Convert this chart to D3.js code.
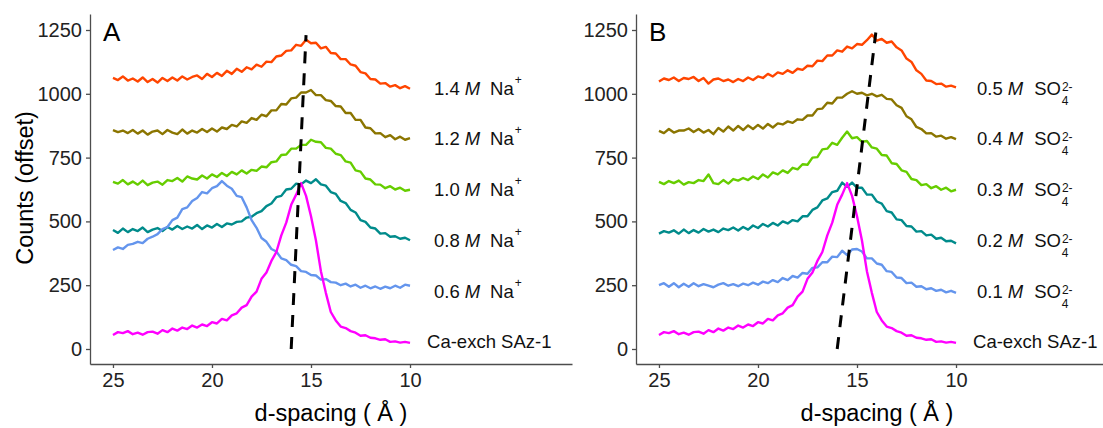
<!DOCTYPE html>
<html lang="en">
<head>
<meta charset="utf-8">
<title>d-spacing XRD patterns</title>
<script src="https://cdn.jsdelivr.net/npm/d3@7"></script>
<style>
  body { margin: 0; background: #fff; }
  svg { display: block; font-family: "Liberation Sans", Arial, sans-serif; }
</style>
</head>
<body>
<script>
// d-spacing grid (Å)
var dSpacing = [25, 24.75, 24.5, 24.25, 24, 23.75, 23.5, 23.25, 23, 22.75, 22.5, 22.25, 22,
  21.75, 21.5, 21.25, 21, 20.75, 20.5, 20.25, 20, 19.75, 19.5, 19.25, 19, 18.75, 18.5, 18.25, 18,
  17.75, 17.5, 17.25, 17, 16.75, 16.5, 16.25, 16, 15.75, 15.5, 15.25, 15, 14.75, 14.5, 14.25, 14,
  13.75, 13.5, 13.25, 13, 12.75, 12.5, 12.25, 12, 11.75, 11.5, 11.25, 11, 10.75, 10.5, 10.25, 10];

// counts with the offset already added
var caExch = [55, 66, 62, 70, 58, 64, 56, 66, 68, 60, 74, 66, 80, 72, 84, 78, 92, 84, 96, 90,
  105, 100, 118, 112, 132, 140, 162, 172, 205, 225, 275, 300, 345, 380, 445, 495, 565, 605, 650, 600,
  520, 425, 305, 220, 145, 112, 88, 82, 70, 64, 52, 54, 44, 42, 36, 38, 28, 30, 25, 28, 24];

var na06 = [388, 398, 392, 408, 412, 420, 415, 432, 440, 450, 470, 478, 505, 515, 548, 555, 580,
  592, 615, 610, 630, 638, 658, 640, 628, 600, 595, 555, 505, 475, 435, 420, 392, 382, 355, 348, 330,
  325, 305, 302, 290, 288, 272, 274, 262, 260, 250, 256, 245, 252, 240, 248, 238, 245, 236, 244, 238,
  248, 240, 252, 248];
var na08 = [466, 455, 472, 458, 470, 462, 476, 458, 468, 474, 462, 478, 468, 482, 470, 480, 472,
  486, 470, 484, 476, 490, 478, 492, 488, 498, 500, 515, 518, 532, 540, 560, 570, 595, 600, 625, 628,
  648, 645, 660, 650, 665, 645, 640, 615, 608, 580, 572, 545, 535, 505, 498, 476, 472, 452, 454, 440,
  442, 432, 436, 426];
var na10 = [655, 648, 662, 645, 656, 644, 660, 642, 652, 656, 644, 662, 658, 670, 656, 676, 668,
  664, 680, 668, 684, 674, 690, 678, 694, 684, 700, 688, 702, 698, 715, 712, 732, 735, 760, 762, 785,
  785, 800, 800, 820, 812, 810, 788, 785, 765, 760, 735, 730, 700, 695, 668, 664, 645, 644, 630, 638,
  625, 632, 620, 624];
var na12 = [858, 850, 856, 846, 858, 844, 856, 840, 852, 856, 842, 858, 848, 842, 860, 844, 856,
  848, 862, 850, 864, 852, 868, 862, 878, 872, 892, 886, 905, 898, 918, 912, 935, 935, 960, 958, 982,
  985, 1005, 1005, 1015, 995, 995, 975, 972, 952, 950, 925, 925, 898, 898, 868, 865, 845, 846, 830, 838,
  822, 832, 820, 826];
var na14 = [1062, 1054, 1068, 1052, 1060, 1048, 1064, 1046, 1058, 1044, 1062, 1050, 1064, 1052, 1068,
  1056, 1066, 1072, 1058, 1078, 1066, 1082, 1070, 1090, 1078, 1098, 1086, 1104, 1096, 1114, 1106, 1126,
  1124, 1146, 1150, 1168, 1170, 1192, 1188, 1212, 1198, 1200, 1178, 1184, 1160, 1158, 1136, 1136, 1115,
  1110, 1085, 1080, 1058, 1056, 1040, 1042, 1028, 1034, 1022, 1030, 1020];

var so01 = [250, 258, 244, 258, 242, 256, 244, 258, 246, 254, 248, 242, 252, 258, 248, 254, 246,
  256, 250, 260, 252, 264, 258, 270, 262, 278, 270, 286, 280, 298, 295, 318, 320, 340, 340, 362, 360,
  385, 368, 390, 392, 382, 355, 355, 335, 330, 305, 302, 280, 278, 258, 260, 244, 246, 234, 238, 228,
  232, 222, 228, 220];
var so02 = [452, 462, 456, 465, 452, 468, 454, 466, 456, 470, 460, 468, 458, 472, 466, 476, 464,
  478, 468, 484, 474, 490, 480, 494, 484, 500, 492, 505, 500, 520, 520, 545, 555, 582, 590, 615, 620,
  652, 635, 652, 632, 632, 605, 605, 578, 570, 540, 535, 508, 505, 482, 480, 460, 462, 445, 448, 432,
  436, 422, 424, 414];
var so03 = [655, 646, 658, 650, 660, 644, 654, 650, 662, 658, 684, 650, 646, 662, 648, 666, 660,
  670, 662, 676, 666, 684, 672, 692, 684, 700, 690, 710, 704, 724, 722, 750, 752, 782, 785, 808, 800,
  828, 852, 826, 830, 812, 815, 790, 785, 760, 758, 728, 725, 700, 694, 666, 662, 642, 646, 630, 638,
  624, 632, 618, 624];
var so04 = [855, 846, 862, 848, 856, 856, 864, 850, 862, 848, 858, 842, 866, 852, 872, 856, 874,
  858, 876, 862, 878, 864, 882, 868, 884, 880, 892, 886, 900, 898, 915, 915, 940, 942, 965, 962, 985,
  985, 1000, 1010, 1000, 1004, 994, 1000, 990, 996, 980, 978, 955, 945, 912, 900, 870, 862, 845, 846,
  832, 836, 824, 830, 822];
var so05 = [1048, 1060, 1054, 1064, 1050, 1062, 1058, 1066, 1050, 1062, 1040, 1056, 1060, 1050, 1056,
  1046, 1058, 1050, 1064, 1054, 1068, 1062, 1078, 1068, 1084, 1078, 1092, 1082, 1098, 1094, 1110, 1108,
  1130, 1128, 1150, 1150, 1170, 1165, 1185, 1178, 1195, 1192, 1210, 1232, 1208, 1215, 1200, 1205, 1182,
  1170, 1138, 1125, 1092, 1078, 1052, 1050, 1038, 1040, 1028, 1032, 1025];

// dashed peak-trend lines: [d, counts] end points
var trendA = [[16.0, 0], [15.25, 1230]];
var trendB = [[16.0, 0], [14.05, 1240]];

// labels and ticks
var concA = ["0.6", "0.8", "1.0", "1.2", "1.4"];
var concB = ["0.1", "0.2", "0.3", "0.4", "0.5"];
var labelCounts = [28, 225, 425, 623, 825, 1022];
var yTicks = [0, 250, 500, 750, 1000, 1250];
var xTicks = [25, 20, 15, 10];

var colors = ["#FF00FF", "#6495ED", "#008B8B", "#66CD00", "#8B7500", "#FF4500"];

var W = 1103, H = 428;
var svg = d3.select("body").append("svg").attr("width", W).attr("height", H);

var y = d3.scaleLinear().domain([-58.8, 1312.7]).range([364, 14]);

function panel(left, letter, series, trend, labelFn, labelX, caX) {
  var x = d3.scaleLinear().domain([26.16, 1.82]).range([left, left + 482]);
  var g = svg.append("g");

  var line = d3.line().x(function(d) { return x(d[0]); }).y(function(d) { return y(d[1]); });

  // top series first so Ca-exch ends up on top
  [5, 4, 3, 2, 1, 0].forEach(function(k) {
    var pts = dSpacing.map(function(d, i) { return [d, series[k][i]]; });
    g.append("path")
      .attr("d", line(pts))
      .attr("fill", "none")
      .attr("stroke", colors[k])
      .attr("stroke-width", 2.4)
      .attr("stroke-linejoin", "round");
  });

  g.append("path")
    .attr("d", line(trend))
    .attr("fill", "none")
    .attr("stroke", "#000")
    .attr("stroke-width", 3)
    .attr("stroke-dasharray", "12,10");

  // axes
  var ya = g.append("g").attr("transform", "translate(" + left + ",0)")
    .call(d3.axisLeft(y).tickValues(yTicks).tickFormat(d3.format("d"))
      .tickSize(4).tickSizeOuter(0).tickPadding(4));
  var xa = g.append("g").attr("transform", "translate(0,364)")
    .call(d3.axisBottom(x).tickValues(xTicks).tickFormat(d3.format("d"))
      .tickSize(4).tickSizeOuter(0).tickPadding(5));
  [ya, xa].forEach(function(a) {
    a.select(".domain").attr("stroke", "#4d4d4d").attr("stroke-width", 1.3);
    a.selectAll(".tick line").attr("stroke", "#4d4d4d").attr("stroke-width", 1.3);
    a.selectAll(".tick text").attr("font-size", 20).attr("fill", "#222")
      .attr("font-family", "Liberation Sans, Arial, sans-serif");
  });

  g.append("text").attr("x", left + 13).attr("y", 41)
    .attr("font-size", 26).attr("fill", "#000").text(letter);

  g.append("text").attr("x", left + 241).attr("y", 421)
    .attr("text-anchor", "middle").attr("font-size", 23.5).attr("fill", "#000")
    .text("d-spacing ( Å )");

  // series labels
  labelCounts.forEach(function(v, k) {
    var t = g.append("text")
      .attr("x", x(k === 0 ? caX : labelX))
      .attr("y", y(v)).attr("dy", "0.35em")
      .attr("font-size", 18.5).attr("fill", "#111");
    if (k === 0) t.text("Ca-exch SAz-1");
    else labelFn(t, k - 1);
  });
}

function naLabel(t, i) {
  t.append("tspan").text(concA[i]);
  t.append("tspan").attr("dx", 5).attr("font-style", "italic").text("M");
  t.append("tspan").attr("dx", 10).text("Na");
  t.append("tspan").attr("dx", 1).attr("dy", -11).attr("font-size", 12).text("+");
}

function soLabel(t, i) {
  t.append("tspan").text(concB[i]);
  t.append("tspan").attr("dx", 5).attr("font-style", "italic").text("M");
  t.append("tspan").attr("dx", 11).text("SO");
  t.append("tspan").attr("dx", 1).attr("dy", -4).attr("font-size", 12).text("2-");
  t.append("tspan").attr("dx", -10.7).attr("dy", 14).attr("font-size", 12).text("4");
}

panel(90, "A", [caExch, na06, na08, na10, na12, na14], trendA, naLabel, 8.79, 9.14);
panel(636, "B", [caExch, so01, so02, so03, so04, so05], trendB, soLabel, 8.94, 9.14);

svg.append("text")
  .attr("transform", "translate(33,188) rotate(-90)")
  .attr("text-anchor", "middle").attr("font-size", 23.5).attr("fill", "#000")
  .text("Counts (offset)");
</script>
</body>
</html>
